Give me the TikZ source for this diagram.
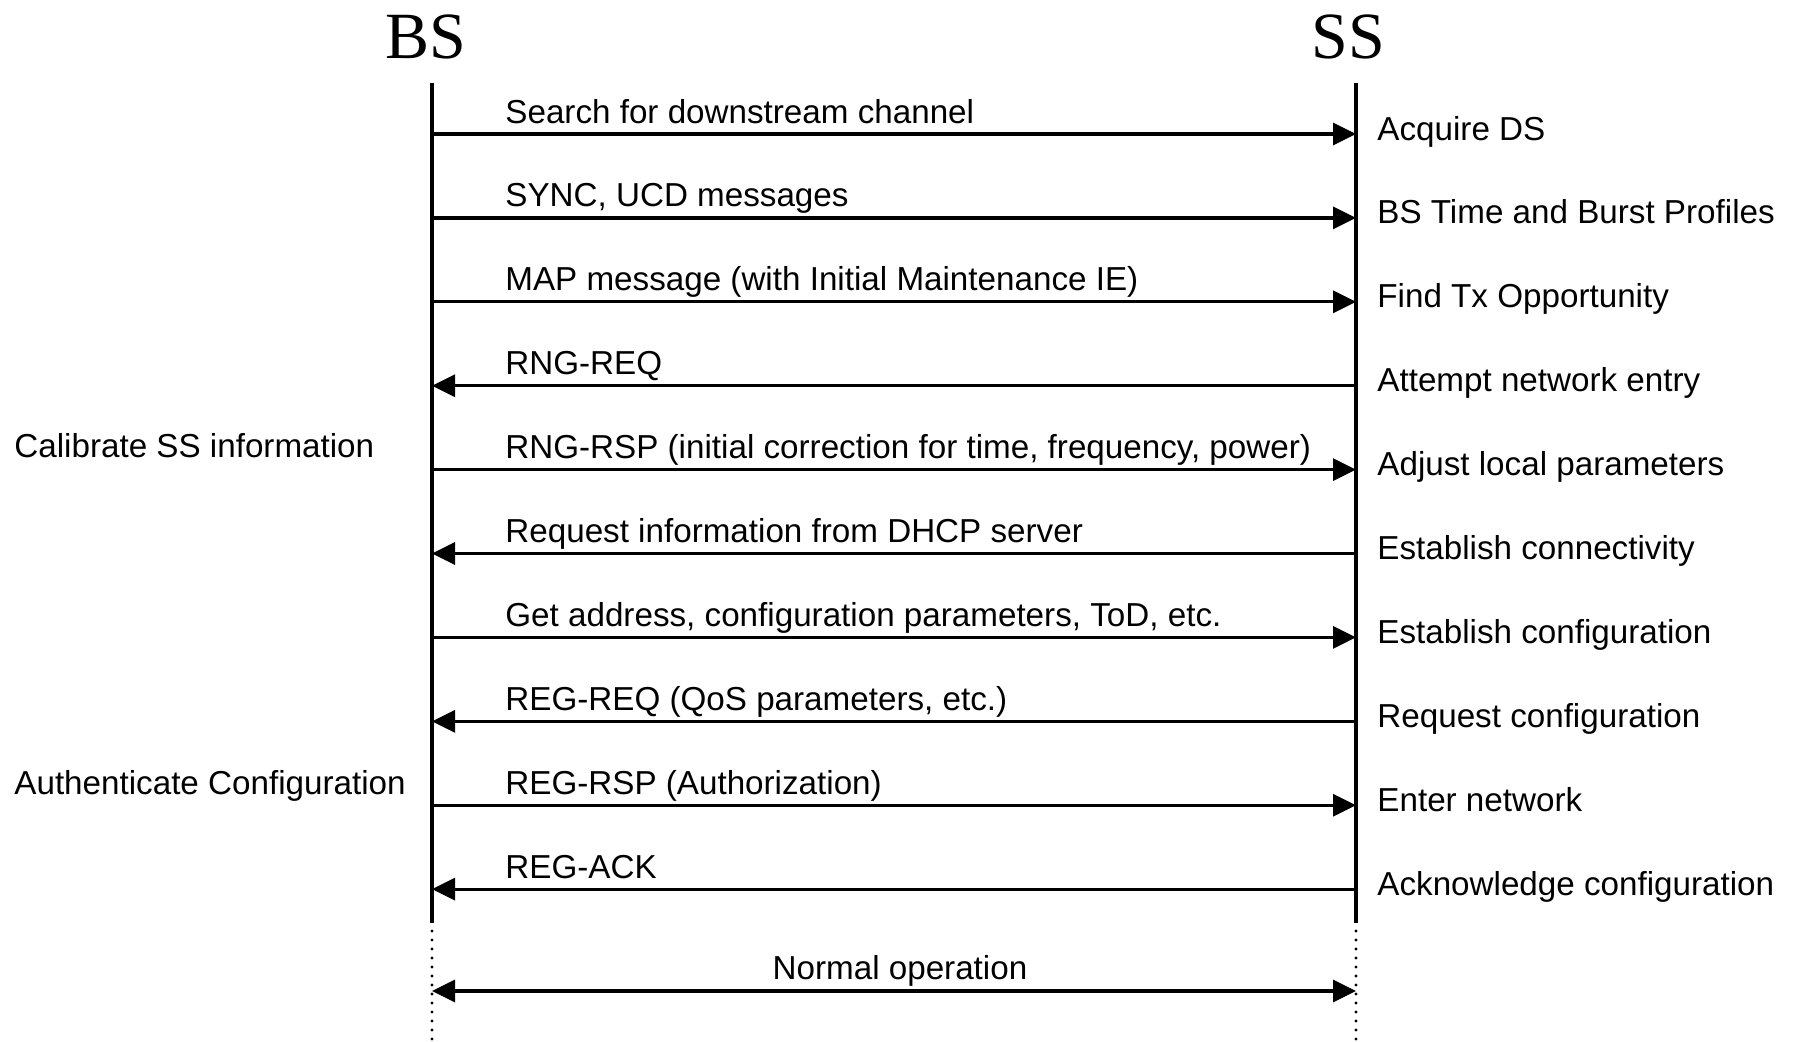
\documentclass[tikz,border=0pt]{standalone}
\usepackage{fontspec}
\setmainfont{Liberation Sans}
\newfontfamily\headfont{Liberation Serif}
\usetikzlibrary{arrows.meta}

\tikzset{
  msg/.style={line width=1.6pt, -{Triangle[length=11.5pt,width=11pt]}},
  both/.style={line width=1.6pt, {Triangle[length=11.5pt,width=11pt]}-{Triangle[length=11.5pt,width=11pt]}},
  life/.style={line width=2.4pt},
  lifedots/.style={line width=1.6pt, line cap=round, dash pattern=on 0pt off 4.5pt, dash phase=-4pt},
  txt/.style={anchor=base west, inner sep=0pt, font=\fontsize{16.6}{20}\selectfont},
  head/.style={anchor=base, inner sep=0pt, font=\headfont\fontsize{33}{36}\selectfont}
}

\begin{document}
\begin{tikzpicture}[x=0.5pt,y=0.5pt,yscale=-1]
\useasboundingbox (0,0) rectangle (1799,1041);

% Headings
\node[head] (bs) at (426,58) {BS};
\node[head] (ss) at (1348,58) {SS};

% Lifelines
\coordinate (bstop) at (432,83);
\coordinate (sstop) at (1356,83);
\coordinate (bsend) at (432,923);
\coordinate (ssend) at (1356,923);
\coordinate (bsbot) at (432,1041);
\coordinate (ssbot) at (1356,1041);
\draw[life] (bstop) -- (bsend);
\draw[life] (sstop) -- (ssend);
\draw[lifedots] (bsend) -- (bsbot);
\draw[lifedots] (ssend) -- (ssbot);

% Messages
\foreach \i/\from/\to/\msg/\act in {
  1/bs/ss/{Search for downstream channel}/{Acquire DS},
  2/bs/ss/{SYNC, UCD messages}/{BS Time and Burst Profiles},
  3/bs/ss/{MAP message (with Initial Maintenance IE)}/{Find Tx Opportunity},
  4/ss/bs/{RNG-REQ}/{Attempt network entry},
  5/bs/ss/{RNG-RSP (initial correction for time, frequency, power)}/{Adjust local parameters},
  6/ss/bs/{Request information from DHCP server}/{Establish connectivity},
  7/bs/ss/{Get address, configuration parameters, ToD, etc.}/{Establish configuration},
  8/ss/bs/{REG-REQ (QoS parameters, etc.)}/{Request configuration},
  9/bs/ss/{REG-RSP (Authorization)}/{Enter network},
  10/ss/bs/{REG-ACK}/{Acknowledge configuration}}{
  \coordinate (bs\i) at (432,{134+83.9*(\i-1)});
  \coordinate (ss\i) at (1356,{134+83.9*(\i-1)});
  \draw[msg] (\from\i) -- (\to\i);
  \node[txt] (m\i) at (505,{123+83.9*(\i-1)}) {\msg};
  \node[txt] (a\i) at (1377,{140+83.9*(\i-1)}) {\act};
}

% Text Node
\node[txt] (calib) at (14,457) {Calibrate SS information};
% Text Node
\node[txt] (auth) at (14,794) {Authenticate Configuration};

% Normal operation
\coordinate (bsn) at (432,991);
\coordinate (ssn) at (1356,991);
\draw[both] (bsn) -- (ssn);
\node[txt, anchor=base] (normal) at (900,979) {Normal operation};
\end{tikzpicture}
\end{document}
